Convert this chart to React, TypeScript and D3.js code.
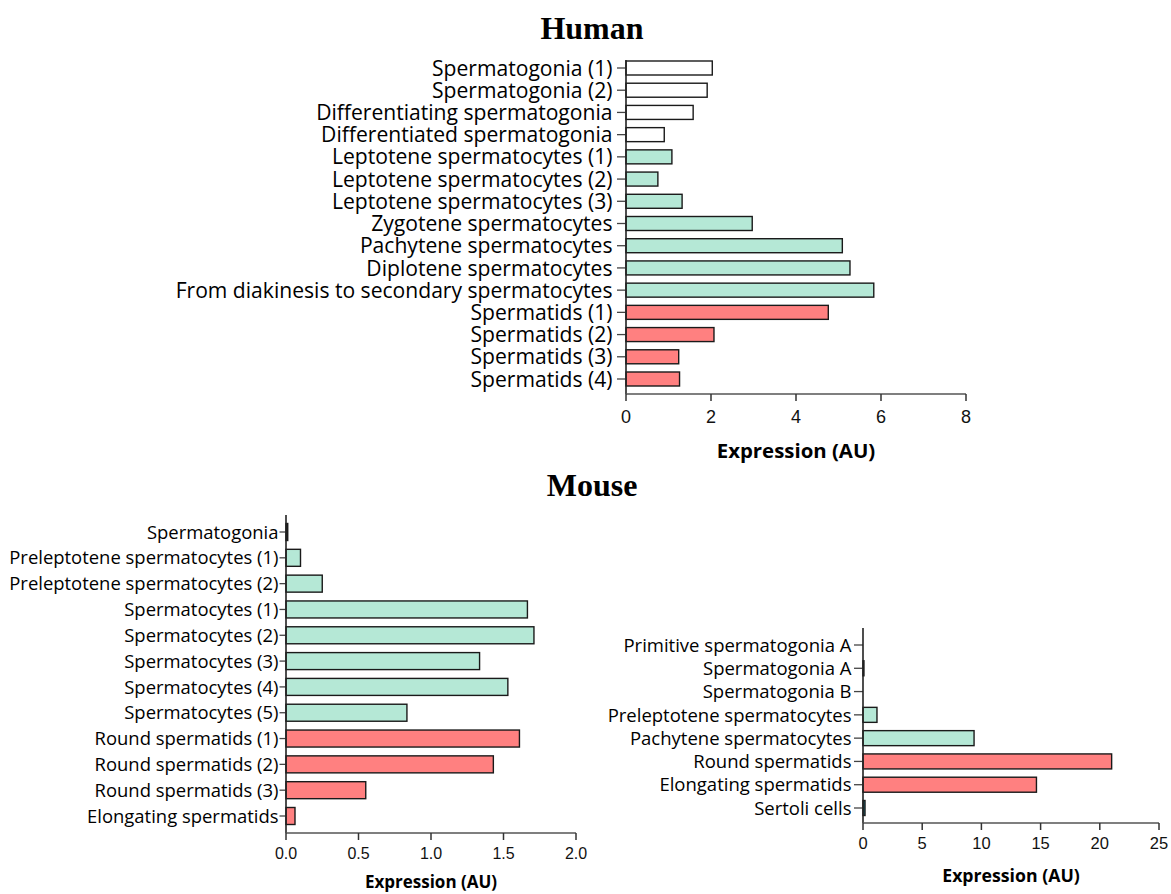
import React from "react";
import * as d3 from "d3";

const humanCategories = [
  "Spermatogonia (1)",
  "Spermatogonia (2)",
  "Differentiating spermatogonia",
  "Differentiated spermatogonia",
  "Leptotene spermatocytes (1)",
  "Leptotene spermatocytes (2)",
  "Leptotene spermatocytes (3)",
  "Zygotene spermatocytes",
  "Pachytene spermatocytes",
  "Diplotene spermatocytes",
  "From diakinesis to secondary spermatocytes",
  "Spermatids (1)",
  "Spermatids (2)",
  "Spermatids (3)",
  "Spermatids (4)",
];
const humanValues = [2.03, 1.91, 1.58, 0.9, 1.08, 0.75, 1.32, 2.97, 5.09, 5.27, 5.83, 4.76, 2.07, 1.24, 1.26];
const humanGroups = ["g", "g", "g", "g", "c", "c", "c", "c", "c", "c", "c", "t", "t", "t", "t"];
const humanTicks = [0, 2, 4, 6, 8];

const mouseACategories = [
  "Spermatogonia",
  "Preleptotene spermatocytes (1)",
  "Preleptotene spermatocytes (2)",
  "Spermatocytes (1)",
  "Spermatocytes (2)",
  "Spermatocytes (3)",
  "Spermatocytes (4)",
  "Spermatocytes (5)",
  "Round spermatids (1)",
  "Round spermatids (2)",
  "Round spermatids (3)",
  "Elongating spermatids",
];
const mouseAValues = [0.012, 0.1, 0.25, 1.665, 1.71, 1.335, 1.53, 0.834, 1.61, 1.43, 0.55, 0.062];
const mouseAGroups = ["k", "c", "c", "c", "c", "c", "c", "c", "t", "t", "t", "t"];
const mouseATicks = [0, 0.5, 1.0, 1.5, 2.0];

const mouseBCategories = [
  "Primitive spermatogonia A",
  "Spermatogonia A",
  "Spermatogonia B",
  "Preleptotene spermatocytes",
  "Pachytene spermatocytes",
  "Round spermatids",
  "Elongating spermatids",
  "Sertoli cells",
];
const mouseBValues = [0, 0.08, 0, 1.18, 9.38, 21.0, 14.65, 0.17];
const mouseBGroups = ["g", "k", "g", "c", "c", "t", "t", "s"];
const mouseBTicks = [0, 5, 10, 15, 20, 25];

const fills: Record<string, string> = {
  g: "#ffffff",
  c: "#b5e8d6",
  t: "#ff8080",
  k: "#111111",
  s: "#1a7f90",
};

const LABEL_FONT = "'Open Sans', Lato, sans-serif";
const TICK_FONT = "'Liberation Sans', Arial, sans-serif";

type PanelProps = {
  categories: string[];
  values: number[];
  groups: string[];
  ticks: number[];
  tickFmt: (v: number) => string;
  domainMax: number;
  x0: number;
  x1: number;
  yFirst: number;
  yLast: number;
  axisTop: number;
  axisY: number;
  barH: number;
  labelSize: number;
  labelGap: number;
  tickSize: number;
  tickLabelY: number;
  titleY: number;
  titleSize: number;
};

function Panel(p: PanelProps) {
  const x = d3.scaleLinear().domain([0, p.domainMax]).range([p.x0, p.x1]);
  const y = d3.scalePoint<string>().domain(p.categories).range([p.yFirst, p.yLast]);
  return (
    <g>
      {p.categories.map((c, i) => {
        const cy = y(c) as number;
        const w = x(p.values[i]) - x(0);
        return (
          <g key={c}>
            {w > 0 && (
              <rect
                x={x(0)}
                y={cy - p.barH / 2}
                width={w}
                height={p.barH}
                fill={fills[p.groups[i]]}
                stroke="#1a1a1a"
                strokeWidth={1.4}
              />
            )}
            <line x1={x(0) - Math.min(9, p.labelGap - 1)} x2={x(0)} y1={cy} y2={cy} stroke="#444" strokeWidth={1.3} />
            <text
              x={x(0) - p.labelGap}
              y={cy}
              dy="0.36em"
              textAnchor="end"
              fontFamily={LABEL_FONT}
              fontSize={p.labelSize}
              fill="#000"
            >
              {c}
            </text>
          </g>
        );
      })}
      <line x1={x(0)} x2={x(0)} y1={p.axisTop} y2={p.axisY} stroke="#222" strokeWidth={1.6} />
      <line x1={x(0)} x2={x(p.domainMax)} y1={p.axisY} y2={p.axisY} stroke="#555" strokeWidth={1.6} />
      {p.ticks.map((t) => (
        <g key={t}>
          <line x1={x(t)} x2={x(t)} y1={p.axisY} y2={p.axisY + 7} stroke="#333" strokeWidth={1.5} />
          <text
            x={x(t)}
            y={p.tickLabelY}
            dy="0.35em"
            textAnchor="middle"
            fontFamily={TICK_FONT}
            fontSize={p.tickSize}
            fill="#111"
          >
            {p.tickFmt(t)}
          </text>
        </g>
      ))}
      <text
        x={(x(0) + x(p.domainMax)) / 2}
        y={p.titleY}
        dy="0.35em"
        textAnchor="middle"
        fontFamily={LABEL_FONT}
        fontWeight="bold"
        fontSize={p.titleSize}
        fill="#000"
      >
        Expression (AU)
      </text>
    </g>
  );
}

export default function App() {
  return (
    <svg
      width={1171}
      height={894}
      style={{ position: "absolute", left: 0, top: 0, background: "#fff" }}
    >
      <text
        x={592}
        y={28}
        dy="0.35em"
        textAnchor="middle"
        fontFamily="'Liberation Serif', 'Times New Roman', serif"
        fontWeight="bold"
        fontSize={32}
      >
        Human
      </text>
      <text
        x={592}
        y={485}
        dy="0.35em"
        textAnchor="middle"
        fontFamily="'Liberation Serif', 'Times New Roman', serif"
        fontWeight="bold"
        fontSize={32}
      >
        Mouse
      </text>
      <Panel
        categories={humanCategories}
        values={humanValues}
        groups={humanGroups}
        ticks={humanTicks}
        tickFmt={(v) => d3.format("d")(v)}
        domainMax={8}
        x0={626}
        x1={966}
        yFirst={68}
        yLast={379}
        axisTop={60}
        axisY={394}
        barH={14}
        labelSize={21.1}
        labelGap={13.5}
        tickSize={18}
        tickLabelY={417}
        titleY={451}
        titleSize={20.4}
      />
      <Panel
        categories={mouseACategories}
        values={mouseAValues}
        groups={mouseAGroups}
        ticks={mouseATicks}
        tickFmt={(v) => d3.format(".1f")(v)}
        domainMax={2}
        x0={286}
        x1={576}
        yFirst={532}
        yLast={816}
        axisTop={515}
        axisY={833}
        barH={17}
        labelSize={18.45}
        labelGap={7.5}
        tickSize={16}
        tickLabelY={853}
        titleY={882.5}
        titleSize={17}
      />
      <Panel
        categories={mouseBCategories}
        values={mouseBValues}
        groups={mouseBGroups}
        ticks={mouseBTicks}
        tickFmt={(v) => d3.format("d")(v)}
        domainMax={25}
        x0={863}
        x1={1159}
        yFirst={645}
        yLast={808}
        axisTop={628}
        axisY={823}
        barH={15}
        labelSize={18.5}
        labelGap={11.5}
        tickSize={16.5}
        tickLabelY={843}
        titleY={876}
        titleSize={17.7}
      />
    </svg>
  );
}
